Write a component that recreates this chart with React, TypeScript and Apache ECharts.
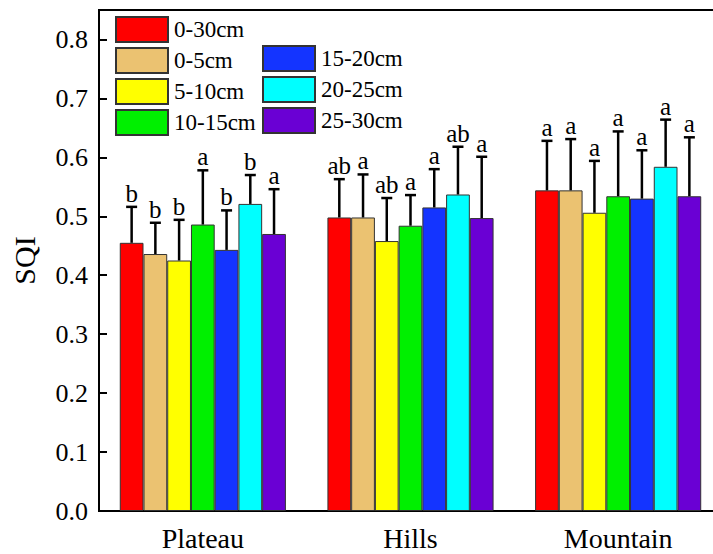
import React, { useEffect, useRef } from "react";
import * as echarts from "echarts";

const categories = ["Plateau", "Hills", "Mountain"];
const depths = ["0-30cm", "0-5cm", "5-10cm", "10-15cm", "15-20cm", "20-25cm", "25-30cm"];
const colors = ["#FF0000", "#EBC271", "#FFFF00", "#00F000", "#1434FF", "#00FFFF", "#6A00D4"];

const meanPlateau = [0.455, 0.436, 0.425, 0.486, 0.443, 0.521, 0.47];
const meanHills = [0.498, 0.498, 0.458, 0.484, 0.515, 0.537, 0.497];
const meanMountain = [0.544, 0.544, 0.506, 0.534, 0.53, 0.584, 0.534];

const sdPlateau = [0.061, 0.053, 0.069, 0.092, 0.067, 0.049, 0.076];
const sdHills = [0.065, 0.073, 0.073, 0.052, 0.065, 0.081, 0.104];
const sdMountain = [0.084, 0.087, 0.088, 0.11, 0.082, 0.08, 0.1];

const lettersPlateau = ["b", "b", "b", "a", "b", "b", "a"];
const lettersHills = ["ab", "a", "ab", "a", "a", "ab", "a"];
const lettersMountain = ["a", "a", "a", "a", "a", "a", "a"];

const yTicks = ["0.0", "0.1", "0.2", "0.3", "0.4", "0.5", "0.6", "0.7", "0.8"];

const FONT = "'Liberation Serif', 'Times New Roman', serif";

export default function App() {
  const ref = useRef<HTMLDivElement>(null);
  useEffect(() => {
    if (!ref.current) return;
    const chart = echarts.init(ref.current, null, { renderer: "svg" });
    const means = [meanPlateau, meanHills, meanMountain];
    const sds = [sdPlateau, sdHills, sdMountain];
    const letters = [lettersPlateau, lettersHills, lettersMountain];
    const errData: number[][] = [];
    const errLetters: string[] = [];
    for (let g = 0; g < categories.length; g++) {
      for (let d = 0; d < depths.length; d++) {
        errData.push([g, d, means[g][d], sds[g][d]]);
        errLetters.push(letters[g][d]);
      }
    }
    const barSeries = depths.map((name, d) => ({
      name,
      type: "bar",
      data: categories.map((_, g) => means[g][d]),
      barGap: "0%",
      barCategoryGap: "20%",
      itemStyle: { color: colors[d], borderColor: "#333", borderWidth: 1 },
      z: 2,
    }));
    const legendBase = {
      orient: "vertical",
      padding: 0,
      itemWidth: 52,
      itemHeight: 25,
      itemGap: 4,
      icon: "rect",
      textStyle: { fontSize: 23, lineHeight: 25, color: "#000", fontFamily: FONT, padding: [0, 0, 0, 1] },
    };
    const option: any = {
      animation: false,
      textStyle: { fontFamily: FONT },
      grid: {
        left: 99,
        right: 0,
        top: 10,
        bottom: 43,
        show: true,
        borderColor: "#000",
        borderWidth: 2,
      },
      legend: [
        { ...legendBase, data: depths.slice(0, 4), left: 115, top: 16 },
        { ...legendBase, data: depths.slice(4), left: 262, top: 45 },
      ],
      xAxis: {
        type: "category",
        data: categories,
        axisLine: { lineStyle: { color: "#000", width: 2 } },
        axisTick: { alignWithLabel: true, length: 7, lineStyle: { color: "#000", width: 2 } },
        axisLabel: { fontSize: 28, color: "#000", margin: 13, fontFamily: FONT },
        splitLine: { show: false },
      },
      yAxis: {
        type: "value",
        min: 0,
        max: 0.85,
        interval: 0.1,
        name: "SQI",
        nameLocation: "middle",
        nameRotate: 90,
        nameGap: 60,
        nameTextStyle: { fontSize: 30, color: "#000", fontFamily: FONT },
        axisLine: { show: true, lineStyle: { color: "#000", width: 2 } },
        axisTick: { show: true, inside: true, length: 8, lineStyle: { color: "#000", width: 2 } },
        axisLabel: {
          fontSize: 26,
          color: "#000",
          margin: 11,
          fontFamily: FONT,
          showMaxLabel: false,
          formatter: (v: number) => {
            const i = Math.round(v * 10);
            return Math.abs(v * 10 - i) < 1e-6 && i < yTicks.length ? yTicks[i] : "";
          },
        },
        splitLine: { show: false },
      },
      series: [
        ...barSeries,
        {
          type: "custom",
          name: "err",
          data: errData,
          encode: { x: 0, y: 2 },
          z: 5,
          renderItem: (params: any, api: any) => {
            const g = api.value(0);
            const d = api.value(1);
            const m = api.value(2);
            const sd = api.value(3);
            const band = api.size([1, 0])[0];
            const bw = (band * 0.8) / depths.length;
            const base = api.coord([g, m]);
            const top = api.coord([g, m + sd]);
            const x = base[0] + (d - (depths.length - 1) / 2) * bw;
            return {
              type: "group",
              children: [
                {
                  type: "line",
                  shape: { x1: x, y1: base[1], x2: x, y2: top[1] },
                  style: { stroke: "#000", lineWidth: 2.5 },
                },
                {
                  type: "line",
                  shape: { x1: x - 5.5, y1: top[1], x2: x + 5.5, y2: top[1] },
                  style: { stroke: "#000", lineWidth: 2.5 },
                },
                {
                  type: "text",
                  x: x,
                  y: top[1] - 1,
                  style: {
                    text: errLetters[params.dataIndex],
                    fontSize: 25,
                    fontFamily: FONT,
                    fill: "#000",
                    align: "center",
                    verticalAlign: "bottom",
                  },
                },
              ],
            };
          },
        },
      ],
    };
    chart.setOption(option);
    return () => chart.dispose();
  }, []);
  return (
    <div style={{ position: "fixed", left: 0, top: 0, width: 713, height: 554, overflow: "hidden", background: "#fff" }}>
      <div ref={ref} style={{ width: 722, height: 554 }} />
    </div>
  );
}
